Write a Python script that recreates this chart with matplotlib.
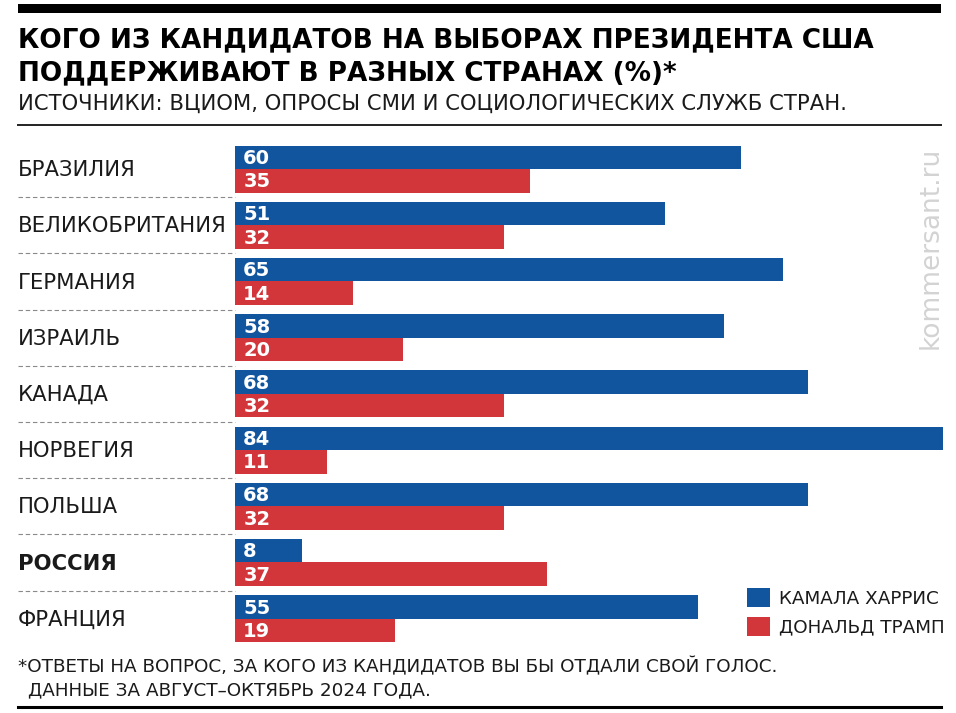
import matplotlib
matplotlib.use("Agg")
import matplotlib.pyplot as plt
from matplotlib.patches import Rectangle
from matplotlib.lines import Line2D

plt.rcParams['font.family'] = ['DejaVu Sans']

# ---------------- data ----------------
countries = ["БРАЗИЛИЯ", "ВЕЛИКОБРИТАНИЯ", "ГЕРМАНИЯ", "ИЗРАИЛЬ", "КАНАДА",
             "НОРВЕГИЯ", "ПОЛЬША", "РОССИЯ", "ФРАНЦИЯ"]
harris = [60, 51, 65, 58, 68, 84, 68, 8, 55]
trump = [35, 32, 14, 20, 32, 11, 32, 37, 19]
series_names = ["КАМАЛА ХАРРИС", "ДОНАЛЬД ТРАМП"]
highlight = "РОССИЯ"

title_lines = ["КОГО ИЗ КАНДИДАТОВ НА ВЫБОРАХ ПРЕЗИДЕНТА США",
               "ПОДДЕРЖИВАЮТ В РАЗНЫХ СТРАНАХ (%)*"]
subtitle = "ИСТОЧНИКИ: ВЦИОМ, ОПРОСЫ СМИ И СОЦИОЛОГИЧЕСКИХ СЛУЖБ СТРАН."
footnote1 = "*ОТВЕТЫ НА ВОПРОС, ЗА КОГО ИЗ КАНДИДАТОВ ВЫ БЫ ОТДАЛИ СВОЙ ГОЛОС."
footnote2 = "ДАННЫЕ ЗА АВГУСТ–ОКТЯБРЬ 2024 ГОДА."
watermark = "kommersant.ru"

BLUE = "#12559F"
RED = "#D2363B"

W, H = 956, 713
fig = plt.figure(figsize=(W / 100, H / 100), dpi=100)


def fx(px):
    return px / W


def fy(py):
    return 1 - py / H


# ---------------- bars axes ----------------
ax = fig.add_axes([0, 0, 1, 1])
ax.axis("off")
x0 = 234.5                      # pixel of value 0
xscale = (943 - x0) / 84.0      # pixels per unit
row0, pitch = 169.0, 56.2       # pixel of first row centre, row pitch
ax.set_xlim(-x0 / xscale, (W - x0) / xscale)
ax.set_ylim((H - row0) / pitch, -row0 / pitch)

n = len(countries)
pos = list(range(n))
bh = 23.5 / pitch
b1 = ax.barh([p - bh / 2 for p in pos], harris, height=bh, color=BLUE,
             label=series_names[0], linewidth=0)
b2 = ax.barh([p + bh / 2 for p in pos], trump, height=bh, color=RED,
             label=series_names[1], linewidth=0)

for p, v in zip(pos, harris):
    ax.annotate(str(v), xy=(0, p - bh / 2), xytext=(6.3, -4.8),
                textcoords="offset points", color="white", fontsize=14,
                fontweight="bold", ha="left", va="baseline")
for p, v in zip(pos, trump):
    ax.annotate(str(v), xy=(0, p + bh / 2), xytext=(6.3, -4.8),
                textcoords="offset points", color="white", fontsize=14,
                fontweight="bold", ha="left", va="baseline")

xlab = (18 - x0) / xscale
for p, c in zip(pos, countries):
    ax.annotate(c, xy=(xlab, p), xytext=(0, -5.2), textcoords="offset points",
                fontsize=15.2, color="#1a1a1a", ha="left", va="baseline",
                fontweight="bold" if c == highlight else "normal")

for p in pos[:-1]:
    ax.plot([xlab, 0], [p + 0.5, p + 0.5], color="#8a8a8a", lw=0.8,
            linestyle=(0, (4, 2.5)))

leg = ax.legend(handles=[b1, b2], loc="upper left",
                bbox_to_anchor=(fx(747), fy(588)), bbox_transform=fig.transFigure,
                frameon=False, fontsize=13.2, borderpad=0, borderaxespad=0,
                handlelength=1.25, handleheight=1.2, handletextpad=0.5,
                labelspacing=0.5)
for t in leg.get_texts():
    t.set_color("#1a1a1a")

# ---------------- header / footer ----------------
fig.add_artist(Rectangle((fx(18), fy(13)), fx(941) - fx(18), fy(4) - fy(13),
                         transform=fig.transFigure, color="black", lw=0))
fig.add_artist(Line2D([fx(18), fx(941)], [fy(125), fy(125)],
                      transform=fig.transFigure, color="#222222", lw=1.4))
fig.add_artist(Line2D([fx(18), fx(941)], [fy(707), fy(707)],
                      transform=fig.transFigure, color="black", lw=2.2))

fig.text(fx(18), fy(47), title_lines[0], fontsize=18.9, fontweight="bold",
         ha="left", va="baseline", color="black")
fig.text(fx(18), fy(80), title_lines[1], fontsize=18.9, fontweight="bold",
         ha="left", va="baseline", color="black")
fig.text(fx(18), fy(110), subtitle, fontsize=15.2, ha="left", va="baseline",
         color="#1a1a1a")
fig.text(fx(18), fy(672), footnote1, fontsize=13.2, ha="left", va="baseline",
         color="#1a1a1a")
fig.text(fx(28), fy(695), footnote2, fontsize=13.2, ha="left", va="baseline",
         color="#1a1a1a")
fig.text(fx(931), fy(248), watermark, fontsize=19, rotation=90, ha="center",
         va="center", color="#d3d3d3")

fig.savefig("out.png", dpi=100)
